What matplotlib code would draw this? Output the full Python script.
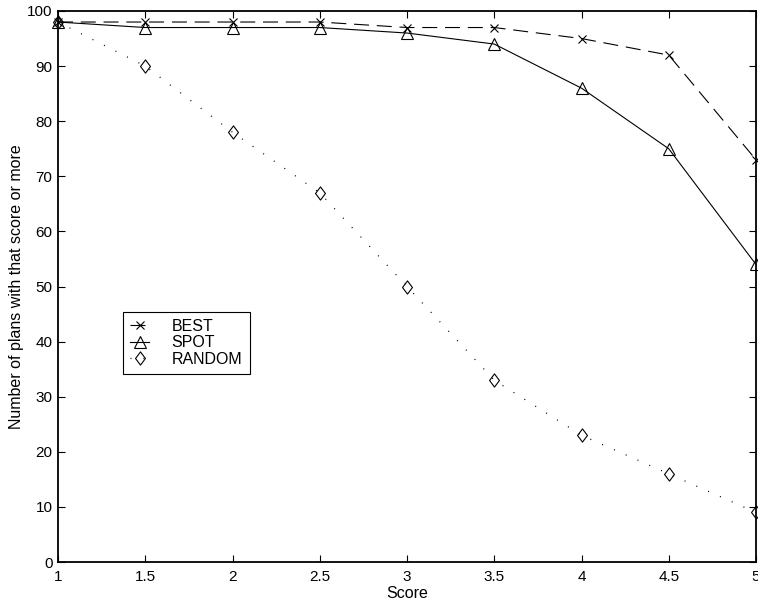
import matplotlib
matplotlib.use('Agg')
import matplotlib.pyplot as plt
from matplotlib.path import Path

plt.rcParams['font.family'] = ['Liberation Sans', 'DejaVu Sans']

# Data
score = [1, 1.5, 2, 2.5, 3, 3.5, 4, 4.5, 5]
best = [98, 98, 98, 98, 97, 97, 95, 92, 73]
spot = [98, 97, 97, 97, 96, 94, 86, 75, 54]
random_ = [98, 90, 78, 67, 50, 33, 23, 16, 9]

# matlab-style diamond (wider than matplotlib's 'd')
diamond = Path([(0, 1), (0.75, 0), (0, -1), (-0.75, 0), (0, 1)],
               [Path.MOVETO, Path.LINETO, Path.LINETO, Path.LINETO, Path.CLOSEPOLY])

fig = plt.figure(figsize=(7.58, 6.03), dpi=100)
ax = fig.add_axes([58 / 758, 1 - 562 / 603, 698 / 758, 551 / 603])

ax.plot(score, best, color='black', lw=0.8, marker='x', ms=6, mew=0.8,
        dashes=(13.5, 7), label='BEST', clip_on=False)
ax.plot(score, spot, color='black', lw=0.8, marker='^', ms=8, mew=0.8,
        mfc='none', label='SPOT', clip_on=False)
ax.plot(score, random_, color='black', lw=0.9, marker=diamond, ms=9.5, mew=0.8,
        mfc='none', dashes=(0.8, 9.5), label='RANDOM', clip_on=False)

ax.set_xlim(1, 5)
ax.set_ylim(0, 100)
ax.set_xticks(score)
ax.set_xticklabels(['1', '1.5', '2', '2.5', '3', '3.5', '4', '4.5', '5'])
ax.set_yticks(range(0, 101, 10))
ax.tick_params(direction='in', length=5, width=0.8, top=True, right=True,
               labelsize=11, pad=4)
ax.tick_params(axis='x', pad=6)
for s in ax.spines.values():
    s.set_linewidth(1.3)

ax.set_xlabel('Score', fontsize=11.5, labelpad=1)
ax.set_ylabel('Number of plans with that score or more', fontsize=11.5, labelpad=2)

leg = ax.legend(loc='lower left', bbox_to_anchor=(0.093, 0.341), fontsize=11.5,
                frameon=True, fancybox=False, edgecolor='black', framealpha=1,
                handlelength=1.2, labelspacing=0.1, borderpad=0.45,
                handletextpad=1.4, borderaxespad=0)
leg.get_frame().set_linewidth(0.8)

fig.savefig('out.png', dpi=100)
